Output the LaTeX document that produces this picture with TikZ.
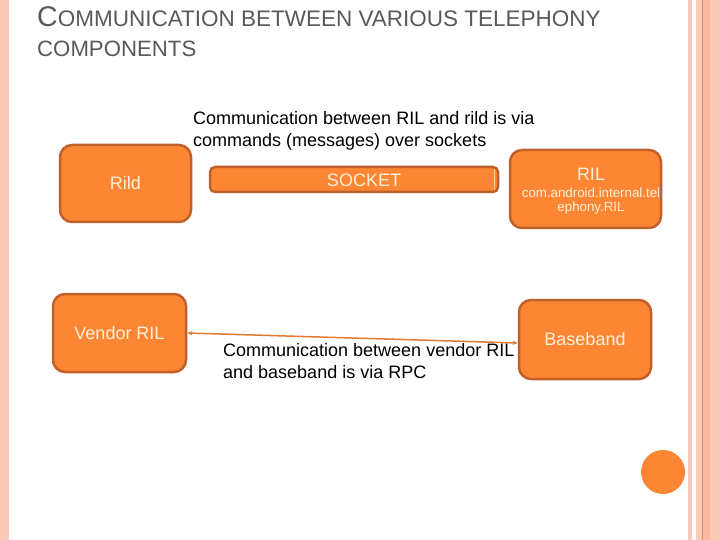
\documentclass[tikz,border=0pt]{standalone}
\usepackage{fontspec}
\setmainfont{Liberation Sans}
\usetikzlibrary{arrows.meta}
\definecolor{orfill}{HTML}{FC8634}
\definecolor{ordraw}{HTML}{C0612A}
\definecolor{cream}{HTML}{FFF0D8}
\definecolor{pinkA}{HTML}{FACBB8}
\definecolor{pinkB}{HTML}{FBB9A0}
\definecolor{pinkLine}{HTML}{D98C6A}
\definecolor{titlegray}{HTML}{595959}
\tikzset{
  box/.style={draw=ordraw, line width=2.5pt, fill=orfill, rounded corners=12pt,
    text=cream, font=\fontsize{18}{22}\selectfont, inner sep=0pt},
  lbl/.style={font=\fontsize{18}{22}\selectfont, align=left, inner sep=0pt, text=black},
  conn/.style={draw=orfill!90!black, line width=1.5pt,
    {Stealth[length=5pt,width=4pt]}-{Stealth[length=5pt,width=4pt]}}
}
\begin{document}
\begin{tikzpicture}[x=1pt,y=-1pt]
\useasboundingbox (0,0) rectangle (720,540);
% borders
\fill[pinkA] (0,0) rectangle (9,540);
\fill[pinkA] (688,0) rectangle (692,540);
\fill[pinkA] (696,0) rectangle (720,540);
\fill[pinkB] (703,0) rectangle (710,540);
\draw[pinkLine, line width=1pt] (702.5,0) -- (702.5,540);
% title
\node[anchor=base west, inner sep=0pt, text=titlegray] (title1) at (37,27)
  {\fontsize{28.5}{30}\selectfont C\fontsize{22.5}{26}\selectfont OMMUNICATION BETWEEN VARIOUS TELEPHONY};
\node[anchor=base west, inner sep=0pt, text=titlegray] (title2) at (37,57)
  {\fontsize{22.2}{26}\selectfont COMPONENTS};
% top label
\node[lbl, anchor=west] (toplbl) at (193,131)
  {Communication between RIL and rild is via\\commands (messages) over sockets};
% boxes
\node[box, minimum width=131pt, minimum height=77pt] (rild) at (125.5,183.5) {Rild};
\node[box, rounded corners=5pt, minimum width=288pt, minimum height=25pt] (socket) at (354,179.5) {};
\node[text=cream, font=\fontsize{18}{22}\selectfont, inner sep=0pt] (sockettxt) at (364,180) {SOCKET};
\draw[cream!70!orfill, line width=1pt] ([xshift=-5pt,yshift=-3pt]socket.north east) coordinate (sm1) -- ([xshift=-5pt,yshift=3pt]socket.south east) coordinate (sm2);
\node[box, minimum width=151pt, minimum height=78pt] (ril) at (585.5,189) {};
\node[text=cream, font=\fontsize{18}{22}\selectfont, inner sep=0pt] (riltitle) at (591,174) {RIL};
\node[text=cream, font=\fontsize{13.3}{14}\selectfont, align=center, inner sep=0pt] (rilsub) at (591,201)
  {com.android.internal.tel\\ephony.RIL};
\node[box, minimum width=133pt, minimum height=78pt] (vendor) at (119.5,333) {Vendor RIL};
\node[box, minimum width=132pt, minimum height=79pt] (baseband) at (585,339.5) {Baseband};
% connector
\draw[conn] (vendor.east) -- ([yshift=-3.5pt]baseband.west);
\node[lbl, anchor=west] (rpclbl) at (223,361.5)
  {Communication between vendor RIL\\and baseband is via RPC};
% decoration circle
\fill[orfill] (663,472) circle (22pt);
\end{tikzpicture}
\end{document}
